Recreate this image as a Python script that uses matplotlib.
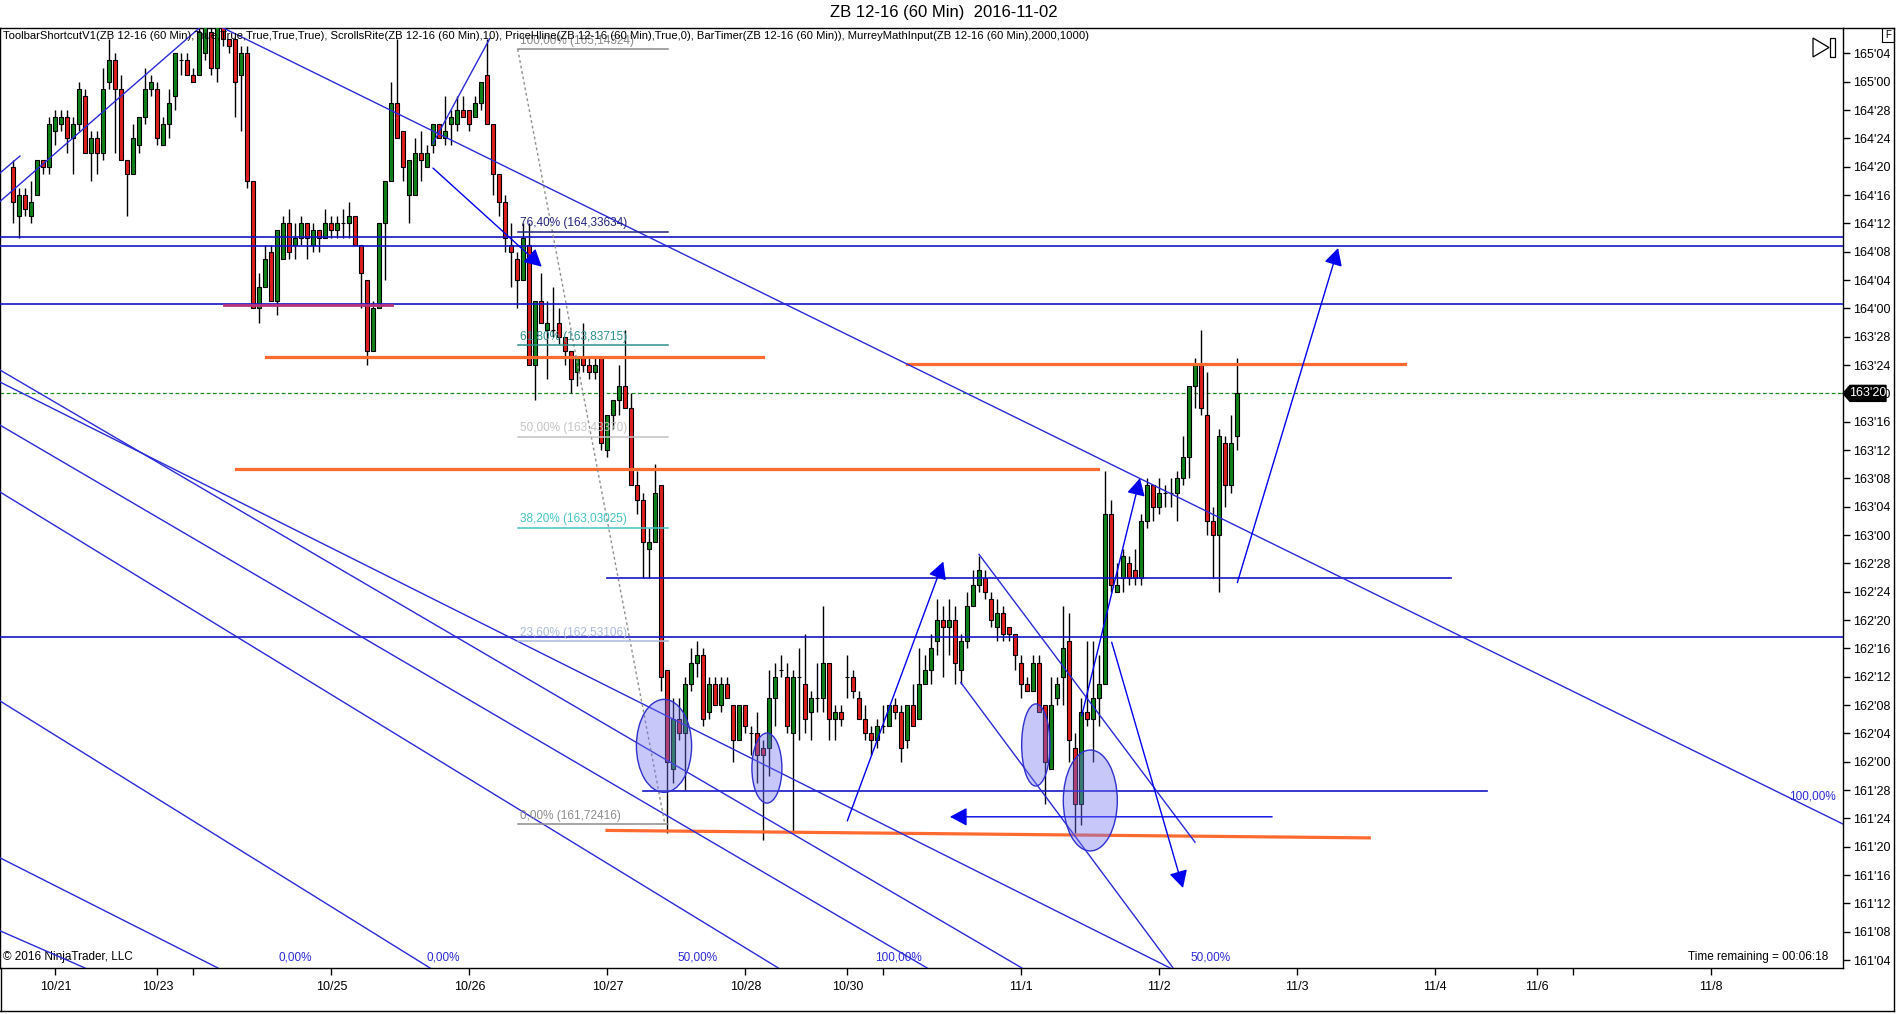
import numpy as np
import matplotlib
matplotlib.use("Agg")
import matplotlib.pyplot as plt
from matplotlib.patches import Ellipse, Polygon, Rectangle
from matplotlib.lines import Line2D
import matplotlib.transforms as mtrans

plt.rcParams['font.family'] = ['Liberation Sans Narrow', 'Liberation Sans', 'DejaVu Sans']

# ZB 12-16 hourly bars, prices in 32nds of a point (5236 = 163'20)
opens = [5268, 5261, 5264, 5261, 5264, 5269, 5268, 5273, 5274, 5275, 5272, 5274, 5278, 5270, 5272, 5270, 5280, 5283, 5279, 5269,
         5267, 5271, 5275, 5279, 5279, 5271, 5274, 5278, 5283, 5283, 5281, 5281, 5284, 5287, 5282, 5288, 5286, 5286, 5281, 5284,
         5266, 5248, 5251, 5256, 5249, 5255, 5260, 5257, 5258, 5260, 5257, 5259, 5258, 5260, 5259, 5260, 5260, 5261, 5257, 5252,
         5242, 5248, 5260, 5266, 5277, 5273, 5264, 5264, 5270, 5268, 5271, 5274, 5272, 5274, 5274, 5276, 5276, 5275, 5277, 5281,
         5274, 5267, 5263, 5257, 5255, 5252, 5257, 5240, 5249, 5245, 5245, 5246, 5244, 5242, 5239, 5241, 5240, 5239, 5241, 5228,
         5233, 5235, 5237, 5234, 5223, 5221, 5214, 5215, 5223, 5197, 5183, 5190, 5188, 5195, 5198, 5199, 5191, 5195, 5192, 5195,
         5192, 5187, 5192, 5188, 5188, 5186, 5186, 5193, 5197, 5196, 5188, 5196, 5195, 5191, 5193, 5193, 5198, 5190, 5191, 5196,
         5196, 5193, 5190, 5188, 5187, 5189, 5189, 5192, 5191, 5187, 5192, 5190, 5195, 5197, 5201, 5204, 5203, 5204, 5197, 5201,
         5206, 5209, 5210, 5207, 5203, 5205, 5203, 5202, 5198, 5195, 5194, 5198, 5192, 5183, 5193, 5196, 5201, 5186, 5178, 5191,
         5190, 5193, 5195, 5219, 5208, 5210, 5212, 5211, 5210, 5218, 5223, 5220, 5222, 5222, 5222, 5224, 5227, 5237, 5240, 5233,
         5218, 5216, 5229, 5223, 5230]
highs = [5269, 5265, 5265, 5266, 5269, 5269, 5275, 5276, 5276, 5276, 5275, 5280, 5279, 5273, 5273, 5282, 5286, 5284, 5281, 5269,
         5274, 5275, 5282, 5281, 5280, 5275, 5279, 5284, 5284, 5284, 5282, 5288, 5288, 5288, 5288, 5288, 5286, 5286, 5285, 5285,
         5266, 5253, 5257, 5257, 5259, 5261, 5262, 5260, 5261, 5260, 5260, 5259, 5262, 5261, 5261, 5262, 5263, 5261, 5257, 5252,
         5249, 5260, 5266, 5280, 5286, 5273, 5269, 5272, 5273, 5271, 5274, 5274, 5278, 5276, 5278, 5278, 5276, 5278, 5280, 5286,
         5274, 5267, 5264, 5260, 5256, 5260, 5260, 5249, 5253, 5249, 5251, 5248, 5244, 5242, 5241, 5246, 5241, 5241, 5241, 5233,
         5235, 5240, 5245, 5236, 5225, 5222, 5217, 5226, 5223, 5197, 5193, 5193, 5196, 5200, 5201, 5200, 5196, 5196, 5196, 5196,
         5192, 5192, 5192, 5189, 5191, 5187, 5197, 5198, 5199, 5198, 5197, 5200, 5202, 5194, 5198, 5206, 5198, 5192, 5192, 5199,
         5197, 5194, 5192, 5189, 5190, 5192, 5192, 5193, 5192, 5192, 5195, 5200, 5199, 5202, 5207, 5206, 5207, 5206, 5202, 5208,
         5211, 5213, 5211, 5208, 5207, 5206, 5203, 5202, 5199, 5196, 5199, 5199, 5192, 5196, 5196, 5206, 5205, 5188, 5193, 5201,
         5201, 5199, 5225, 5221, 5212, 5214, 5213, 5214, 5219, 5224, 5223, 5224, 5223, 5224, 5225, 5230, 5237, 5241, 5245, 5239,
         5220, 5231, 5230, 5233, 5241]
lows = [5260, 5258, 5261, 5260, 5264, 5267, 5267, 5271, 5273, 5270, 5267, 5273, 5270, 5266, 5267, 5269, 5279, 5270, 5269, 5261,
        5267, 5270, 5274, 5278, 5271, 5271, 5272, 5276, 5281, 5281, 5280, 5281, 5283, 5281, 5280, 5285, 5284, 5275, 5273, 5265,
        5248, 5246, 5251, 5249, 5247, 5255, 5255, 5255, 5257, 5255, 5256, 5256, 5258, 5258, 5258, 5258, 5258, 5257, 5248, 5240,
        5242, 5248, 5252, 5266, 5272, 5266, 5260, 5264, 5266, 5268, 5270, 5272, 5271, 5271, 5273, 5275, 5273, 5275, 5276, 5274,
        5264, 5261, 5256, 5251, 5248, 5252, 5240, 5235, 5246, 5238, 5244, 5243, 5240, 5236, 5237, 5239, 5238, 5238, 5228, 5227,
        5231, 5233, 5234, 5223, 5219, 5210, 5210, 5215, 5194, 5174, 5181, 5187, 5180, 5194, 5196, 5189, 5190, 5192, 5191, 5193,
        5184, 5187, 5188, 5185, 5181, 5173, 5182, 5189, 5196, 5188, 5174, 5187, 5188, 5187, 5191, 5191, 5187, 5187, 5189, 5193,
        5193, 5190, 5187, 5185, 5186, 5188, 5189, 5190, 5184, 5186, 5189, 5190, 5195, 5195, 5199, 5196, 5199, 5195, 5195, 5200,
        5206, 5208, 5207, 5203, 5201, 5201, 5201, 5197, 5193, 5194, 5194, 5191, 5178, 5183, 5192, 5192, 5184, 5174, 5175, 5189,
        5184, 5189, 5195, 5208, 5208, 5208, 5209, 5209, 5209, 5217, 5218, 5219, 5220, 5220, 5218, 5223, 5224, 5234, 5233, 5216,
        5210, 5208, 5220, 5222, 5228]
closes = [5263, 5264, 5262, 5263, 5269, 5268, 5274, 5275, 5275, 5272, 5274, 5279, 5270, 5272, 5270, 5279, 5283, 5279, 5269, 5267,
          5272, 5275, 5279, 5280, 5272, 5274, 5277, 5284, 5283, 5281, 5280, 5287, 5288, 5282, 5288, 5286, 5285, 5280, 5284, 5266,
          5248, 5251, 5255, 5249, 5259, 5260, 5256, 5258, 5260, 5258, 5259, 5258, 5260, 5259, 5260, 5260, 5261, 5257, 5253, 5242,
          5248, 5260, 5266, 5277, 5272, 5268, 5269, 5270, 5269, 5270, 5274, 5272, 5273, 5275, 5276, 5275, 5274, 5277, 5280, 5274,
          5267, 5263, 5258, 5256, 5252, 5258, 5240, 5249, 5246, 5246, 5245, 5244, 5242, 5238, 5241, 5240, 5239, 5240, 5229, 5233,
          5235, 5237, 5234, 5223, 5221, 5215, 5215, 5222, 5196, 5184, 5190, 5188, 5195, 5198, 5199, 5190, 5195, 5192, 5195, 5193,
          5187, 5192, 5189, 5188, 5185, 5185, 5193, 5196, 5197, 5189, 5196, 5196, 5190, 5193, 5193, 5198, 5190, 5191, 5190, 5196,
          5194, 5190, 5188, 5187, 5189, 5189, 5192, 5191, 5186, 5192, 5189, 5195, 5197, 5200, 5204, 5203, 5204, 5198, 5201, 5206,
          5209, 5211, 5208, 5204, 5205, 5202, 5202, 5199, 5195, 5194, 5198, 5191, 5184, 5192, 5195, 5200, 5187, 5178, 5191, 5190,
          5193, 5195, 5219, 5209, 5209, 5213, 5210, 5210, 5218, 5223, 5220, 5222, 5222, 5222, 5224, 5227, 5237, 5240, 5234, 5218,
          5216, 5230, 5223, 5229, 5236]

# x axis: bar index of each session start
date_pos = [7, 24, 30, 53, 76, 99, 122, 139, 145, 168, 191, 214, 237, 254, 260, 283]
date_lbl = ['10/21', '10/23', '', '10/25', '10/26', '10/27', '10/28', '10/30', '', '11/1', '11/2', '11/3',
            '11/4', '11/6', '', '11/8']

# drawing objects (bar index, price)
hline_full = [164.316, 164.276, 164.018, 162.552]
hline_seg = [(98.95, 239.6, 162.809), (105.0, 245.6, 161.871)]
orange_seg = [(42.1, 125.0, 163.785, 163.785), (149.0, 232.0, 163.756, 163.756),
              (37.1, 180.8, 163.291, 163.291), (98.95, 226.0, 161.697, 161.664)]
magenta_seg = (35.1, 63.1, 164.015)
trend_lines = [(35.0, 165.237, 304.95, 161.725),
               (-2.22, 164.472, 31.0, 165.237),
               (-2.22, 164.597, 1.1, 164.672),
               (69.95, 164.729, 79.4, 165.19),
               (-2.22, 163.675, 192.8, 161.09),
               (-2.22, 163.728, 168.1, 161.09),
               (-2.22, 163.485, 152.3, 161.09),
               (-2.22, 163.190, 127.5, 161.09),
               (-2.22, 162.268, 69.45, 161.09),
               (-2.22, 161.576, 34.1, 161.09),
               (-2.22, 161.254, 11.95, 161.09),
               (160.95, 162.915, 196.95, 161.645),
               (157.9, 162.350, 193.3, 161.09)]
arrows = [(69.95, 164.619, 88.07, 164.184),
          (139.0, 161.739, 155.0, 162.883),
          (209.8, 161.757, 156.1, 161.757),
          (178.07, 162.203, 187.78, 163.251),
          (204.0, 162.79, 220.8, 164.266),
          (183.07, 162.527, 194.95, 161.443)]
ellipses = [(108.45, 162.07, 9.2, 0.41), (125.6, 161.972, 5.0, 0.309),
            (170.42, 162.074, 4.72, 0.362), (179.5, 161.829, 9.0, 0.445)]

fib_start, fib_end = 84.07, 109.17
fib_levels = [165.14324, 164.33634, 163.83715, 163.43370, 163.03025, 162.53106, 161.72416]
fib_pct = ['100,00%', '76,40%', '61,80%', '50,00%', '38,20%', '23,60%', '0,00%']
fib_colors = ['#8a8a8a', '#23237e', '#2f8f8f', '#c4c4c4', '#45c4c4', '#aab9da', '#8c8c8c']

pct_pos = [46.95, 71.6, 114.1, 147.6, 199.6]
pct_lbl = ['0,00%', '0,00%', '50,00%', '100,00%', '50,00%']

W, H = 1896, 1014


def fx(px):
    return px / W


def fy(py):
    return 1 - py / H


fig = plt.figure(figsize=(W / 100, H / 100), dpi=100)
ax = fig.add_axes([0, fy(968), fx(1843), (968 - 28) / H])
ax.set_xlim(-2.22, 304.95)
ax.set_ylim(161.09, 165.237)

o = np.array(opens) / 32
h = np.array(highs) / 32
l = np.array(lows) / 32
c = np.array(closes) / 32
x = np.arange(len(o))
cols = np.where(c >= o, '#10821a', '#e01e1e')

ax.vlines(x, l, h, color='black', lw=1, zorder=3)
ax.bar(x, np.abs(c - o), bottom=np.minimum(o, c), width=0.68, color=cols,
       edgecolor='black', linewidth=0.8, zorder=4)

# last price line
ax.axhline(c[-1], color='#1d8a1d', ls=(0, (3, 2)), lw=0.9, zorder=2)

blue = '#1515c8'
for yv in hline_full:
    ax.axhline(yv, color=blue, lw=1.2, zorder=5)
for x0, x1, yv in hline_seg:
    ax.plot([x0, x1], [yv, yv], color=blue, lw=1.2, zorder=5)
for x0, x1, y0, y1 in orange_seg:
    ax.plot([x0, x1], [y0, y1], color='#ff6a30', lw=2.3, zorder=5)
ax.plot(magenta_seg[:2], [magenta_seg[2]] * 2, color='#b8337a', lw=2, zorder=5)
for x0, y0, x1, y1 in trend_lines:
    ax.plot([x0, x1], [y0, y1], color='#2a2ad8', lw=1, zorder=5)
for x0, y0, x1, y1 in arrows:
    ax.annotate('', xy=(x1, y1), xytext=(x0, y0),
                arrowprops=dict(arrowstyle='-|>,head_length=0.75,head_width=0.4', color='#0000ee',
                                lw=1, mutation_scale=14, shrinkA=0, shrinkB=0), zorder=6)
for cx, cy, ew, eh in ellipses:
    ax.add_patch(Ellipse((cx, cy), ew, eh, facecolor=(0.45, 0.45, 0.95, 0.4),
                         edgecolor='#3030d0', lw=1, zorder=6))

# fibonacci retracement
ax.plot([fib_start, 108.6], [fib_levels[0], fib_levels[-1]], color='#909090', ls=(0, (2, 2)), lw=1, zorder=5)
for lev, pct, col in zip(fib_levels, fib_pct, fib_colors):
    ax.plot([fib_start, fib_end], [lev, lev], color=col, lw=1.1, zorder=5)
    ax.text(fib_start + 0.3, lev + 0.012, '%s (%s)' % (pct, ('%.5f' % lev).replace('.', ',')),
            color=col, fontsize=8.5, ha='left', va='bottom', zorder=6)

tr = mtrans.blended_transform_factory(ax.transData, ax.transAxes)
for xp, t in zip(pct_pos, pct_lbl):
    ax.text(xp, 0.005, t, color='#2a2ad8', fontsize=8.5, ha='center', va='bottom', transform=tr)
ax.text(299.8, 161.845, '100,00%', color='#2a2ad8', fontsize=8.5, ha='center', va='center')

ax.text(3 / 1843, 1 - 3 / 940,
        'ToolbarShortcutV1(ZB 12-16 (60 Min),True,True,True,True,True), ScrollsRite(ZB 12-16 (60 Min),10), '
        'PriceHline(ZB 12-16 (60 Min),True,0), BarTimer(ZB 12-16 (60 Min)), MurreyMathInput(ZB 12-16 (60 Min),2000,1000)',
        transform=ax.transAxes, fontsize=8.1, ha='left', va='top', zorder=7)
ax.text(3 / 1843, 0.005, '\u00a9 2016 NinjaTrader, LLC', transform=ax.transAxes, fontsize=8.5,
        ha='left', va='bottom')
ax.text(1828 / 1843, 0.005, 'Time remaining = 00:06:18', transform=ax.transAxes, fontsize=8.5,
        ha='right', va='bottom')

# axes styling
for s in ax.spines.values():
    s.set_color('black')
    s.set_linewidth(1)
yt = np.arange(161.125, 165.2, 0.125)
ax.yaxis.tick_right()
ax.set_yticks(yt)
ax.set_yticklabels(["%d'%02d" % (int(v), round((v - int(v)) * 32)) for v in yt])
ax.set_xticks(date_pos)
ax.set_xticklabels(date_lbl)
ax.tick_params(axis='y', direction='out', length=5, width=1, labelsize=9, pad=2)
ax.tick_params(axis='x', direction='out', length=5, width=1, labelsize=9, pad=4)

# last price marker
ty = mtrans.blended_transform_factory(ax.transAxes, ax.transData)
p = c[-1]
d = 8 / 226.7
ax.add_patch(Polygon([(1.0, p), (7 / 1843 + 1, p + d), (43 / 1843 + 1, p + d),
                      (43 / 1843 + 1, p - d), (7 / 1843 + 1, p - d)],
                     closed=True, facecolor='black', edgecolor='black', transform=ty,
                     clip_on=False, zorder=10))
ax.text(1 + 25 / 1843, p, "%d'%02d" % (int(p), round((p - int(p)) * 32)), color='white', fontsize=9,
        ha='center', va='center', transform=ty, zorder=11, clip_on=False)

# window decorations
fig.text(fx(944), fy(13), 'ZB 12-16 (60 Min)  2016-11-02', ha='center', va='center', fontsize=12)
for xs, ys in [([1843, 1894], [28, 28]), ([1894, 1894], [28, 1011]), ([0, 1894], [1011, 1011]),
               ([0.5, 0.5], [968, 1011])]:
    fig.add_artist(Line2D([fx(v) for v in xs], [fy(v) for v in ys], color='black', lw=1))
fig.add_artist(Polygon([(fx(1813), fy(38)), (fx(1813), fy(57)), (fx(1829), fy(47.5))], closed=True,
                       fill=False, edgecolor='black', lw=0.9))
fig.add_artist(Rectangle((fx(1830), fy(57)), fx(5), 19 / H, fill=False, edgecolor='black', lw=0.9))
fig.add_artist(Rectangle((fx(1882), fy(42)), fx(12), 14 / H, fill=False, edgecolor='black', lw=0.8))
fig.text(fx(1888), fy(35), 'F', fontsize=7, ha='center', va='center')

fig.savefig('out.png', dpi=100)
